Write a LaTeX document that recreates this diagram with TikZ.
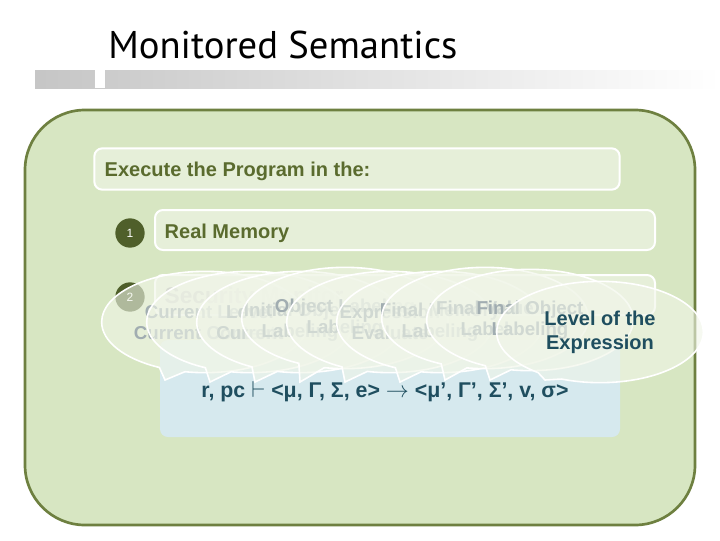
\documentclass[tikz,border=0pt]{standalone}
\usepackage{fontspec}
\setmainfont{Liberation Sans}
\newfontfamily\titlefont{PT Sans}
\usetikzlibrary{shapes.callouts}
\definecolor{olive}{HTML}{6E8040}
\definecolor{darkolive}{HTML}{4F5F2A}
\definecolor{bggreen}{HTML}{D7E6C2}
\definecolor{boxgreen}{HTML}{E6EFD9}
\definecolor{txtgreen}{HTML}{5A6B2E}
\definecolor{teal}{HTML}{1F4E5F}
\definecolor{lblue}{HTML}{D6E9EE}
\tikzset{
  bar/.style={rounded corners=6pt, draw=white, line width=1.5pt, fill=boxgreen},
  num/.style={circle, fill=darkolive, text=white, font=\small, minimum size=22pt, inner sep=0pt},
  bub/.style={ellipse callout, draw=white, line width=1.2pt, fill=boxgreen!60!white, fill opacity=0.6, text opacity=1,
     minimum width=155pt, minimum height=76pt, inner sep=0pt, font=\bfseries\fontsize{14}{16}\selectfont, align=center, text=teal!45!gray!55},
}
\begin{document}
\begin{tikzpicture}[x=0.75pt,y=-0.75pt]
\useasboundingbox (0,0) rectangle (720,540);
\fill[white] (0,0) rectangle (720,540);
\node[anchor=base west, inner sep=0pt, font=\titlefont\fontsize{29}{32}\selectfont] (title) at (108,58) {Monitored Semantics};
\shade[left color=gray!45, right color=white] (35,70) rectangle (720,88);
\fill[white] (95,70) rectangle (105,88);
\draw[olive, line width=2pt, fill=bggreen, rounded corners=45pt] (25,110) rectangle (695,525);
\node[bar, minimum width=394pt, minimum height=31pt] (exec) at (357,169) {};
\node[anchor=west, text=txtgreen, font=\bfseries\fontsize{15}{16}\selectfont] (exect) at (100,171) {Execute the Program in the:};
\node[num] (n1) at (130,233) {1};
\node[bar, minimum width=375pt, minimum height=30pt] (b1) at (405,230) {};
\node[anchor=west, text=txtgreen, font=\bfseries\fontsize{15}{16}\selectfont] (b1t) at (160,233) {Real Memory};
\node[num] (n2) at (130,297) {2};
\node[bar, minimum width=375pt, minimum height=30pt] (b2) at (405,295) {};
\node[anchor=west, text=gray!60, font=\bfseries\fontsize{17}{18}\selectfont] (b2t) at (160,298) {Security Monitor};
\fill[lblue, rounded corners=6pt] (160,340) rectangle (620,437);
\node[font=\bfseries\fontsize{16}{17}\selectfont, text=teal] (formula) at (385,392) {r, pc $\vdash$ <μ, Γ, Σ, e> $\rightarrow$ <μ’, Γ’, Σ’, v, σ>};
\node[bub, callout absolute pointer={(165,380)}] (c1) at (205,322) {Current Level\\Current Context};
\node[bub, callout absolute pointer={(210,382)}] (c2) at (250,322) {Level\\Current};
\node[bub, callout absolute pointer={(255,382)}] (c3) at (300,322) {Initial Object\\Labeling};
\node[bub, callout absolute pointer={(300,382)}] (c4) at (345,318) {Object Labeling\\Labeling};
\node[bub, callout absolute pointer={(345,382)}] (c5) at (390,322) {Expression\\Evaluate};
\node[bub, callout absolute pointer={(400,382)}] (c6) at (440,322) {Final Memory\\Labeling};
\node[bub, callout absolute pointer={(445,380)}] (c7) at (485,318) {Final Value\\Label};
\node[bub, callout absolute pointer={(490,380)}] (c8) at (530,320) {Final Object\\Labeling};
\node[bub, text=teal, font=\bfseries\fontsize{15}{18}\selectfont, callout absolute pointer={(545,380)}] (c9) at (600,332) {Level of the\\Expression};
\end{tikzpicture}
\end{document}
